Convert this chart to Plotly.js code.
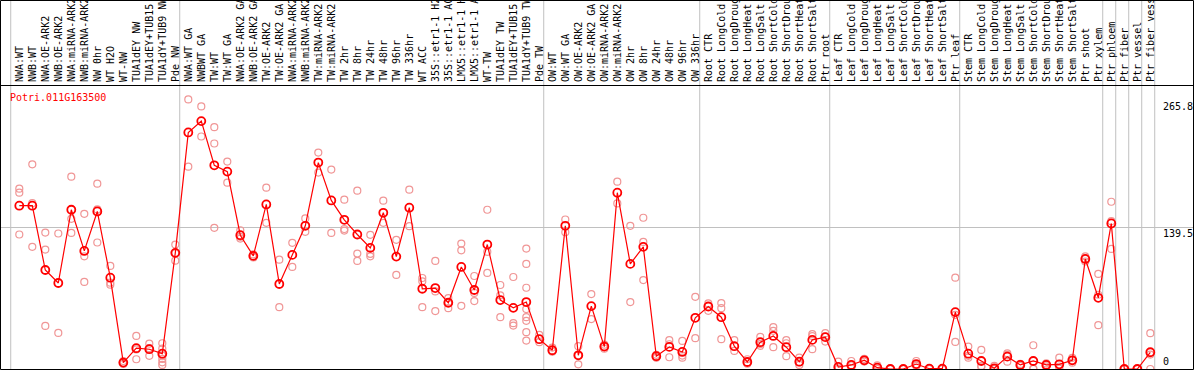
<!DOCTYPE html>
<html>
<head>
<meta charset="utf-8">
<script src="https://cdn.plot.ly/plotly-3.0.1.min.js"></script>
<style>
  html, body { margin: 0; padding: 0; background: #ffffff; }
  #chart { width: 1194px; height: 370px; }
</style>
</head>
<body>
<div id="chart"></div>
<script>
const geneName = "Potri.011G163500";

const labels = [
  "NWA:WT", "NWB:WT", "NWA:OE-ARK2", "NWB:OE-ARK2", "NWA:miRNA-ARK2", "NWB:miRNA-ARK2",
  "NW 0hr", "WT H2O", "WT-NW", "TUA1dEY NW", "TUA1dEY+TUB15", "TUA1dY+TUB9 NW", "Pde NW",
  "NWA:WT GA", "NWBWT GA", "TW:WT", "TW:WT GA", "NWA:OE-ARK2 GA", "NWB:OE-ARK2 GA",
  "TW:OE-ARK2", "TW:OE-ARK2 GA", "NWA:miRNA-ARK2", "NWB:miRNA-ARK2", "TW:miRNA-ARK2",
  "TW:miRNA-ARK2", "TW 2hr", "TW 8hr", "TW 24hr", "TW 48hr", "TW 96hr", "TW 336hr",
  "WT ACC", "35S::etr1-1 H2", "35S::etr1-1 AC", "LMX5::etr1-1 H", "LMX5::etr1-1 A",
  "WT-TW", "TUA1dEY TW", "TUA1dEY+TUB15", "TUA1dY+TUB9 TW", "Pde TW",
  "OW:WT", "OW:WT GA", "OW:OE-ARK2", "OW:OE-ARK2 GA", "OW:miRNA-ARK2", "OW:miRNA-ARK2",
  "OW 2hr", "OW 8hr", "OW 24hr", "OW 48hr", "OW 96hr", "OW 336hr",
  "Root CTR", "Root LongCold", "Root LongDroug", "Root LongHeat", "Root LongSalt",
  "Root ShortCold", "Root ShortDrou", "Root ShortHeat", "Root ShortSalt", "Ptr root",
  "Leaf CTR", "Leaf LongCold", "Leaf LongDroug", "Leaf LongHeat", "Leaf LongSalt",
  "Leaf ShortCold", "Leaf ShortDrou", "Leaf ShortHeat", "Leaf ShortSalt", "Ptr leaf",
  "Stem CTR", "Stem LongCold", "Stem LongDroug", "Stem LongHeat", "Stem LongSalt",
  "Stem ShortCold", "Stem ShortDrou", "Stem ShortHeat", "Stem ShortSalt",
  "Ptr shoot", "Ptr xylem", "Ptr phloem", "Ptr fiber", "Ptr vessel", "Ptr fiber vess"
];

const meanValues = [
  161, 161, 97.6, 84.8, 157, 116.4, 155.3, 90, 6.3, 20.5, 19.5, 15.1, 114.5,
  233.2, 244.4, 200.8, 194.6, 131.9, 111.5, 162.2, 83.8, 112.5, 141.2, 203.5,
  166.2, 147.1, 132.6, 119.4, 154, 110.8, 159, 79.1, 79.8, 65.3, 100.6, 77.9,
  122.7, 68, 60.3, 66, 29.4,
  18.5, 141.2, 13.5, 62, 22.1, 173.8, 103.6, 120.4, 12.6, 21.8, 16.8, 50.5,
  61.6, 51.1, 22.5, 6.9, 26.4, 32.6, 21.5, 7.2, 28.7, 31.4,
  2, 4, 8.6, 1.3, 0, 0, 4.9, 0.3, 0.3, 56.1,
  15.1, 7.9, 0.7, 12.2, 4, 7.9, 4, 4.6, 8.6, 108.5, 70.2,
  143.5, 0, 0, 16.5
];

const replicateValues = [
  [177.8, 173.8, 132.6], [201.8, 163.5, 120.4], [134.5, 117.7, 42.5], [133.6, 35.6],
  [189.6, 148.1, 134.2], [153, 111.1, 85.8], [182.7, 157.3, 124.7], [101.6, 85.1, 83.1],
  [7.9, 6, 5], [32.6, 19.3, 9.6], [25, 20.5, 13], [25.4, 20, 13.2, 9.9, 6.6, 4],
  [122.7, 114, 106.8],
  [265.8, 199.5], [258.9, 229.2], [238.4, 222.3, 139.2], [204.5, 183.7],
  [136.8, 130.3, 128.6], [113, 111.5, 110], [178.8, 144.1], [107.8, 61],
  [124.4, 100.6], [148.4, 135.2], [213.4, 193.6], [196.6, 134.2],
  [166.9, 138, 136.5], [175.8, 113.8, 106.5], [132.3, 113.5, 111.1], [165.9, 144.1],
  [127.3, 92.7], [176.8, 140.8], [89.7, 86.4, 61], [106.5, 76.5, 57.1],
  [69.9, 65.5, 60], [123.7, 117, 62.3], [91.7, 75, 67], [157, 115.5, 94.7],
  [82.8, 72.5, 51.1], [90.7, 45.2, 42.8],
  [118.7, 103.6, 80.1, 59.1, 51.1, 47.5, 36.3, 28], [33.6, 26.4],
  [21.1, 17.1], [147.4, 134.8], [22.5, 13.5, 4.6], [73.9, 49.2], [24, 22, 20],
  [184.7, 163.2], [141.2, 66], [149.1, 125.3, 87.7], [14, 12, 11],
  [28.4, 24.4, 11.6], [27.7, 13.2, 11.2], [71.2, 30.4],
  [64.6, 57.4], [65, 60, 29.4], [28.4, 17.8], [9.6, 5.2], [31.7, 24.6, 22.8],
  [41.3, 37.6, 21.5], [28.4, 25.4, 12.6], [11.2, 6.5, 4], [34.3, 32.5, 19.5],
  [35.3, 32, 27],
  [7.2, 0.5, 0], [7.9, 3.5, 0.7], [9.9, 8.6, 7.3], [3.6, 0.3, 0], [0.3, 0, 0],
  [0.2, 0, 0], [7.9, 4, 3], [0.6, 0.2, 0], [0.6, 0.2, 0], [90, 53.4, 26.7],
  [22.1, 13, 11.2], [18.8, 3, 2.3], [3, 0, 0], [15.5, 14, 7.2], [5, 4, 3],
  [23.4, 0.3, 0], [5.5, 4, 2.5], [11.2, 2.3, 0.3], [11, 8.6, 6.2],
  [111.1, 108.5, 106], [93.7, 73.2, 43.2],
  [164.9, 145.7, 118.4], [0, 0, 0], [0, 0, 0], [35.3, 14.2, 0]
];

// index where each sample group starts (group separators)
const groupStarts = [0, 13, 41, 53, 63, 73, 84, 85, 86, 87, 88];

const yTickValues = [0, 139.5, 265.8];
const yTickLabels = ["0", "139.5", "265.8"];
const yAxisMax = 279;

// ---- build traces ----
const xIdx = labels.map((_, i) => i);
const repX = [], repY = [];
replicateValues.forEach((arr, i) => arr.forEach(v => { repX.push(i); repY.push(v); }));

const FONT = "DejaVu Sans Mono, Liberation Mono, monospace";
const W = 1194, H = 370, T = 86, B = 1;
const plotH = H - T - B;
const pxPerCat = 13.0, firstPx = 19.3;
const xRange = [-firstPx / pxPerCat, (W - firstPx) / pxPerCat];
const py = (row) => (H - B - row) / plotH; // image row -> paper y

const traces = [
  {
    type: "scatter", mode: "markers", x: repX, y: repY, hoverinfo: "skip",
    marker: { symbol: "circle-open", size: 7, color: "#f09696",
              line: { color: "#f09696", width: 1.2 } }
  },
  {
    type: "scatter", mode: "lines+markers", x: xIdx, y: meanValues,
    line: { color: "#ff0000", width: 1.2 },
    marker: { symbol: "circle-open", size: 8, color: "#ff0000",
              line: { color: "#ff0000", width: 1.8 } }
  }
];

const shapes = [];
groupStarts.forEach(g => {
  shapes.push({ type: "line", xref: "x", yref: "paper", x0: g - 0.66, x1: g - 0.66,
    y0: py(370), y1: py(0), line: { color: "#c0c0c0", width: 1 }, layer: "below" });
});
shapes.push({ type: "line", xref: "paper", yref: "y", x0: 0, x1: 1, y0: yTickValues[1], y1: yTickValues[1],
  line: { color: "#c0c0c0", width: 1 }, layer: "below" });
// separator under labels
shapes.push({ type: "line", xref: "paper", yref: "paper", x0: 0, x1: 1, y0: py(85.5), y1: py(85.5),
  line: { color: "#000000", width: 1 } });
// outer frame
shapes.push({ type: "rect", xref: "paper", yref: "paper", x0: 0.5 / W, x1: (W - 0.5) / W,
  y0: py(369.5), y1: py(0.5), line: { color: "#000000", width: 1 } });

const annotations = [
  { xref: "paper", yref: "paper", x: 8 / W, y: py(90), xanchor: "left", yanchor: "top",
    text: geneName, showarrow: false, font: { family: FONT, size: 10, color: "#ff0000" } }
];
const tickAnchor = ["bottom", "top", "top"];
const tickShift = [0, 2, 0];
yTickValues.forEach((v, k) => {
  annotations.push({ xref: "paper", yref: "y", x: 1161 / W, y: v, xanchor: "left",
    yanchor: tickAnchor[k], yshift: tickShift[k], text: yTickLabels[k], showarrow: false,
    font: { family: FONT, size: 10, color: "#000000" } });
});

const layout = {
  width: W, height: H,
  margin: { l: 0, r: 0, t: T, b: B, pad: 0 },
  paper_bgcolor: "#ffffff", plot_bgcolor: "rgba(0,0,0,0)",
  showlegend: false,
  xaxis: {
    range: xRange, side: "top", tickmode: "array", tickvals: xIdx, ticktext: labels,
    tickangle: -90, ticks: "", ticklabelstandoff: 3, showgrid: false, zeroline: false, showline: false,
    tickfont: { family: FONT, size: 10, color: "#000000" }, automargin: false, fixedrange: true
  },
  yaxis: {
    range: [0, yAxisMax], showticklabels: false, showgrid: false, zeroline: false,
    showline: false, ticks: "", automargin: false, fixedrange: true
  },
  shapes: shapes,
  annotations: annotations
};

Plotly.newPlot("chart", traces, layout, { staticPlot: true, displayModeBar: false });
</script>
</body>
</html>
